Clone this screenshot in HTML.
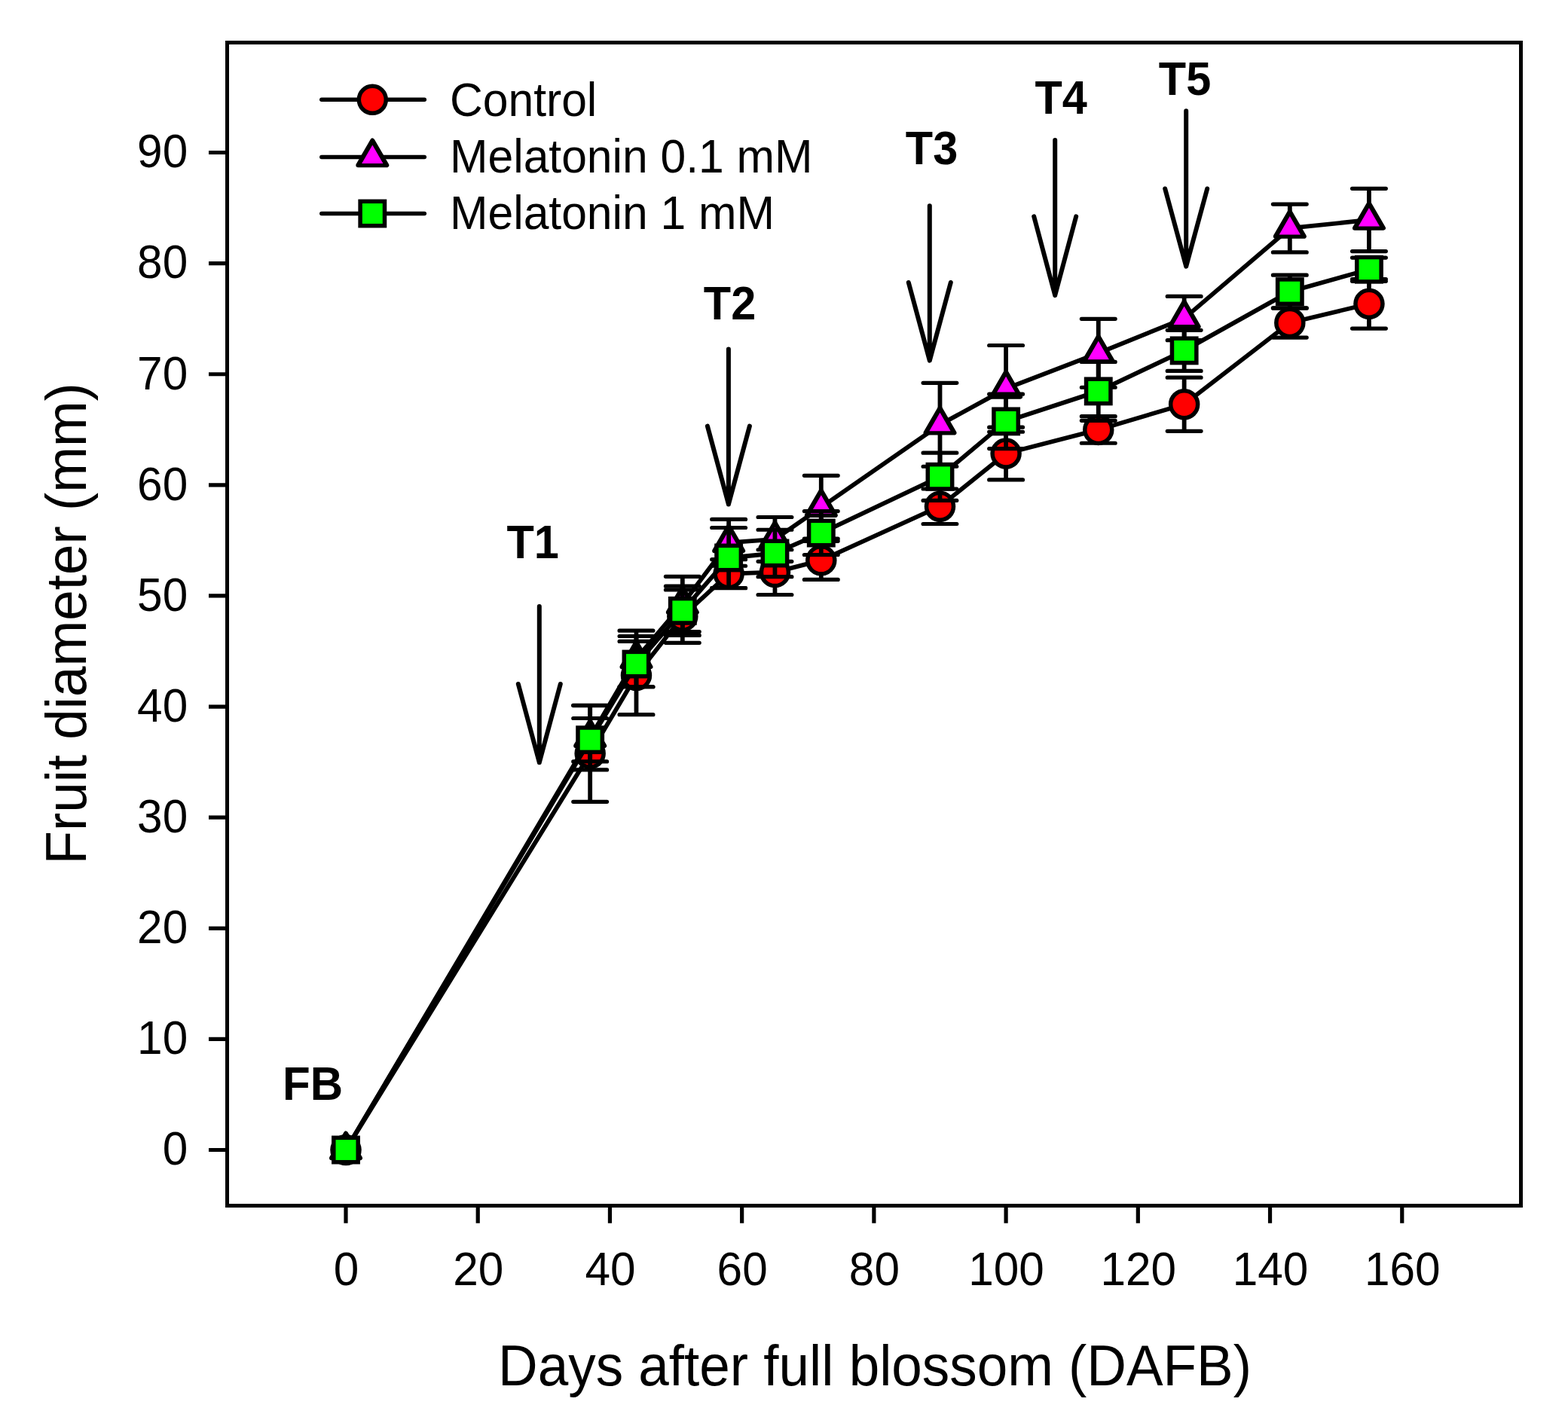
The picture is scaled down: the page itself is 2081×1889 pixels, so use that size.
<!DOCTYPE html>
<html><head><meta charset="utf-8"><title>Fruit diameter</title>
<style>
html,body{margin:0;padding:0;background:#fff;}
body{width:2081px;height:1889px;overflow:hidden;}
svg{display:block;}
.t{font-family:"Liberation Sans",Arial,sans-serif;fill:#000;}
.b{font-family:"Liberation Sans",Arial,sans-serif;font-weight:bold;fill:#000;}
</style></head><body>
<svg width="2081" height="1889" viewBox="0 0 2081 1889">
<rect x="0" y="0" width="2081" height="1889" fill="#fff"/>
<polyline points="459,1526.5 783.16,1000.29 844.48,896.57 905.81,818.17 967.14,761.68 1028.46,759.62 1089.79,743.87 1247.49,672.23 1335.1,602.06 1457.75,570.43 1571.65,536.74 1711.82,428.47 1816.95,403.32" fill="none" stroke="#000" stroke-width="5.8" stroke-linejoin="round"/>
<path d="M783.16 936.29V1064.28M844.48 844.5V948.65M905.81 783.01V853.32M967.14 742.7V780.65M1028.46 729.75V789.48M1089.79 718.28V769.47M1247.49 648.99V695.48M1335.1 567.2V636.93M1457.75 552.63V588.23M1571.65 501.14V572.34M1711.82 408.91V448.04M1816.95 370.51V436.12" fill="none" stroke="#000" stroke-width="5.8"/><path d="M760.76 936.29H805.56M760.76 1064.28H805.56M822.08 844.5H866.88M822.08 948.65H866.88M883.41 783.01H928.21M883.41 853.32H928.21M944.74 742.7H989.54M944.74 780.65H989.54M1006.06 729.75H1050.87M1006.06 789.48H1050.87M1067.39 718.28H1112.19M1067.39 769.47H1112.19M1225.09 648.99H1269.89M1225.09 695.48H1269.89M1312.7 567.2H1357.5M1312.7 636.93H1357.5M1435.35 552.63H1480.15M1435.35 588.23H1480.15M1549.25 501.14H1594.05M1549.25 572.34H1594.05M1689.42 408.91H1734.22M1689.42 448.04H1734.22M1794.55 370.51H1839.36M1794.55 436.12H1839.36" fill="none" stroke="#000" stroke-width="5.2" stroke-linecap="round"/>
<circle cx="459" cy="1526.5" r="18" fill="#ff0000" stroke="#000" stroke-width="5.5"/>
<circle cx="783.16" cy="1000.29" r="18" fill="#ff0000" stroke="#000" stroke-width="5.5"/>
<circle cx="844.48" cy="896.57" r="18" fill="#ff0000" stroke="#000" stroke-width="5.5"/>
<circle cx="905.81" cy="818.17" r="18" fill="#ff0000" stroke="#000" stroke-width="5.5"/>
<circle cx="967.14" cy="761.68" r="18" fill="#ff0000" stroke="#000" stroke-width="5.5"/>
<circle cx="1028.46" cy="759.62" r="18" fill="#ff0000" stroke="#000" stroke-width="5.5"/>
<circle cx="1089.79" cy="743.87" r="18" fill="#ff0000" stroke="#000" stroke-width="5.5"/>
<circle cx="1247.49" cy="672.23" r="18" fill="#ff0000" stroke="#000" stroke-width="5.5"/>
<circle cx="1335.1" cy="602.06" r="18" fill="#ff0000" stroke="#000" stroke-width="5.5"/>
<circle cx="1457.75" cy="570.43" r="18" fill="#ff0000" stroke="#000" stroke-width="5.5"/>
<circle cx="1571.65" cy="536.74" r="18" fill="#ff0000" stroke="#000" stroke-width="5.5"/>
<circle cx="1711.82" cy="428.47" r="18" fill="#ff0000" stroke="#000" stroke-width="5.5"/>
<circle cx="1816.95" cy="403.32" r="18" fill="#ff0000" stroke="#000" stroke-width="5.5"/>
<polyline points="459,1526.5 783.16,979.25 844.48,874.43 905.81,801.98 967.14,720.34 1028.46,715.92 1089.79,673.26 1247.49,563.81 1335.1,515.85 1457.75,468.78 1571.65,422.59 1711.82,302.99 1816.95,291.95" fill="none" stroke="#000" stroke-width="5.8" stroke-linejoin="round"/>
<path d="M783.16 936.59V1021.91M844.48 837.14V911.73M905.81 765.35V838.61M967.14 689.44V751.23M1028.46 686.5V745.35M1089.79 631.34V715.19M1247.49 508.35V619.27M1335.1 458.48V573.23M1457.75 423.32V514.24M1571.65 393.46V451.71M1711.82 271.06V334.91M1816.95 250.32V333.59" fill="none" stroke="#000" stroke-width="5.8"/><path d="M760.76 936.59H805.56M760.76 1021.91H805.56M822.08 837.14H866.88M822.08 911.73H866.88M883.41 765.35H928.21M883.41 838.61H928.21M944.74 689.44H989.54M944.74 751.23H989.54M1006.06 686.5H1050.87M1006.06 745.35H1050.87M1067.39 631.34H1112.19M1067.39 715.19H1112.19M1225.09 508.35H1269.89M1225.09 619.27H1269.89M1312.7 458.48H1357.5M1312.7 573.23H1357.5M1435.35 423.32H1480.15M1435.35 514.24H1480.15M1549.25 393.46H1594.05M1549.25 451.71H1594.05M1689.42 271.06H1734.22M1689.42 334.91H1734.22M1794.55 250.32H1839.36M1794.55 333.59H1839.36" fill="none" stroke="#000" stroke-width="5.2" stroke-linecap="round"/>
<polygon points="459,1504.5 478,1537.3 440,1537.3" fill="#000" stroke="#000" stroke-width="6" stroke-linejoin="round"/><polygon points="459,1510.5 473.1,1535 444.9,1535" fill="#ff00ff"/>
<polygon points="783.16,957.25 802.16,990.05 764.16,990.05" fill="#000" stroke="#000" stroke-width="6" stroke-linejoin="round"/><polygon points="783.16,963.25 797.26,987.75 769.06,987.75" fill="#ff00ff"/>
<polygon points="844.48,852.43 863.48,885.23 825.48,885.23" fill="#000" stroke="#000" stroke-width="6" stroke-linejoin="round"/><polygon points="844.48,858.43 858.58,882.93 830.38,882.93" fill="#ff00ff"/>
<polygon points="905.81,779.98 924.81,812.78 886.81,812.78" fill="#000" stroke="#000" stroke-width="6" stroke-linejoin="round"/><polygon points="905.81,785.98 919.91,810.48 891.71,810.48" fill="#ff00ff"/>
<polygon points="967.14,698.34 986.14,731.14 948.14,731.14" fill="#000" stroke="#000" stroke-width="6" stroke-linejoin="round"/><polygon points="967.14,704.34 981.24,728.84 953.04,728.84" fill="#ff00ff"/>
<polygon points="1028.46,693.92 1047.46,726.72 1009.46,726.72" fill="#000" stroke="#000" stroke-width="6" stroke-linejoin="round"/><polygon points="1028.46,699.92 1042.56,724.42 1014.36,724.42" fill="#ff00ff"/>
<polygon points="1089.79,651.26 1108.79,684.06 1070.79,684.06" fill="#000" stroke="#000" stroke-width="6" stroke-linejoin="round"/><polygon points="1089.79,657.26 1103.89,681.76 1075.69,681.76" fill="#ff00ff"/>
<polygon points="1247.49,541.81 1266.49,574.61 1228.49,574.61" fill="#000" stroke="#000" stroke-width="6" stroke-linejoin="round"/><polygon points="1247.49,547.81 1261.59,572.31 1233.39,572.31" fill="#ff00ff"/>
<polygon points="1335.1,493.85 1354.1,526.65 1316.1,526.65" fill="#000" stroke="#000" stroke-width="6" stroke-linejoin="round"/><polygon points="1335.1,499.85 1349.2,524.35 1321,524.35" fill="#ff00ff"/>
<polygon points="1457.75,446.78 1476.75,479.58 1438.75,479.58" fill="#000" stroke="#000" stroke-width="6" stroke-linejoin="round"/><polygon points="1457.75,452.78 1471.85,477.28 1443.65,477.28" fill="#ff00ff"/>
<polygon points="1571.65,400.59 1590.65,433.39 1552.65,433.39" fill="#000" stroke="#000" stroke-width="6" stroke-linejoin="round"/><polygon points="1571.65,406.59 1585.75,431.09 1557.55,431.09" fill="#ff00ff"/>
<polygon points="1711.82,280.99 1730.82,313.79 1692.82,313.79" fill="#000" stroke="#000" stroke-width="6" stroke-linejoin="round"/><polygon points="1711.82,286.99 1725.92,311.49 1697.72,311.49" fill="#ff00ff"/>
<polygon points="1816.95,269.95 1835.95,302.75 1797.95,302.75" fill="#000" stroke="#000" stroke-width="6" stroke-linejoin="round"/><polygon points="1816.95,275.95 1831.05,300.45 1802.86,300.45" fill="#ff00ff"/>
<polyline points="459,1526.5 783.16,982.19 844.48,881.57 905.81,810.81 967.14,740.49 1028.46,734.46 1089.79,707.54 1247.49,632.81 1335.1,559.4 1457.75,519.38 1571.65,465.4 1711.82,387.13 1816.95,357.71" fill="none" stroke="#000" stroke-width="5.8" stroke-linejoin="round"/>
<path d="M783.16 953.51V1010.88M844.48 851.41V911.73M905.81 778.15V843.47M967.14 700.48V780.51M1028.46 703.27V765.65M1089.79 678.56V736.52M1247.49 601.18V664.44M1335.1 523.21V595.59M1457.75 480.4V558.37M1571.65 438.33V492.46M1711.82 365.21V409.05M1816.95 342.12V373.3" fill="none" stroke="#000" stroke-width="5.8"/><path d="M760.76 953.51H805.56M760.76 1010.88H805.56M822.08 851.41H866.88M822.08 911.73H866.88M883.41 778.15H928.21M883.41 843.47H928.21M944.74 700.48H989.54M944.74 780.51H989.54M1006.06 703.27H1050.87M1006.06 765.65H1050.87M1067.39 678.56H1112.19M1067.39 736.52H1112.19M1225.09 601.18H1269.89M1225.09 664.44H1269.89M1312.7 523.21H1357.5M1312.7 595.59H1357.5M1435.35 480.4H1480.15M1435.35 558.37H1480.15M1549.25 438.33H1594.05M1549.25 492.46H1594.05M1689.42 365.21H1734.22M1689.42 409.05H1734.22M1794.55 342.12H1839.36M1794.55 373.3H1839.36" fill="none" stroke="#000" stroke-width="5.2" stroke-linecap="round"/>
<rect x="442.8" y="1510.3" width="32.4" height="32.4" fill="#00ff00" stroke="#000" stroke-width="5.5"/>
<rect x="766.96" y="965.99" width="32.4" height="32.4" fill="#00ff00" stroke="#000" stroke-width="5.5"/>
<rect x="828.28" y="865.37" width="32.4" height="32.4" fill="#00ff00" stroke="#000" stroke-width="5.5"/>
<rect x="889.61" y="794.61" width="32.4" height="32.4" fill="#00ff00" stroke="#000" stroke-width="5.5"/>
<rect x="950.94" y="724.29" width="32.4" height="32.4" fill="#00ff00" stroke="#000" stroke-width="5.5"/>
<rect x="1012.26" y="718.26" width="32.4" height="32.4" fill="#00ff00" stroke="#000" stroke-width="5.5"/>
<rect x="1073.59" y="691.34" width="32.4" height="32.4" fill="#00ff00" stroke="#000" stroke-width="5.5"/>
<rect x="1231.29" y="616.61" width="32.4" height="32.4" fill="#00ff00" stroke="#000" stroke-width="5.5"/>
<rect x="1318.9" y="543.2" width="32.4" height="32.4" fill="#00ff00" stroke="#000" stroke-width="5.5"/>
<rect x="1441.55" y="503.18" width="32.4" height="32.4" fill="#00ff00" stroke="#000" stroke-width="5.5"/>
<rect x="1555.45" y="449.2" width="32.4" height="32.4" fill="#00ff00" stroke="#000" stroke-width="5.5"/>
<rect x="1695.62" y="370.93" width="32.4" height="32.4" fill="#00ff00" stroke="#000" stroke-width="5.5"/>
<rect x="1800.75" y="341.51" width="32.4" height="32.4" fill="#00ff00" stroke="#000" stroke-width="5.5"/>
<rect x="301.5" y="56.5" width="1717" height="1544" fill="none" stroke="#000" stroke-width="5"/>
<path d="M277 1526.5H301.5M277 1379.39H301.5M277 1232.28H301.5M277 1085.17H301.5M277 938.06H301.5M277 790.95H301.5M277 643.84H301.5M277 496.73H301.5M277 349.62H301.5M277 202.51H301.5M459 1600.5V1623.8M634.22 1600.5V1623.8M809.44 1600.5V1623.8M984.66 1600.5V1623.8M1159.88 1600.5V1623.8M1335.1 1600.5V1623.8M1510.32 1600.5V1623.8M1685.54 1600.5V1623.8M1860.76 1600.5V1623.8" stroke="#000" stroke-width="5.2" fill="none"/>
<text transform="translate(249.2 1546.3) scale(0.95 1)" class="t" text-anchor="end" font-size="63.5">0</text>
<text transform="translate(249.2 1399.19) scale(0.95 1)" class="t" text-anchor="end" font-size="63.5">10</text>
<text transform="translate(249.2 1252.08) scale(0.95 1)" class="t" text-anchor="end" font-size="63.5">20</text>
<text transform="translate(249.2 1104.97) scale(0.95 1)" class="t" text-anchor="end" font-size="63.5">30</text>
<text transform="translate(249.2 957.86) scale(0.95 1)" class="t" text-anchor="end" font-size="63.5">40</text>
<text transform="translate(249.2 810.75) scale(0.95 1)" class="t" text-anchor="end" font-size="63.5">50</text>
<text transform="translate(249.2 663.64) scale(0.95 1)" class="t" text-anchor="end" font-size="63.5">60</text>
<text transform="translate(249.2 516.53) scale(0.95 1)" class="t" text-anchor="end" font-size="63.5">70</text>
<text transform="translate(249.2 369.42) scale(0.95 1)" class="t" text-anchor="end" font-size="63.5">80</text>
<text transform="translate(249.2 222.31) scale(0.95 1)" class="t" text-anchor="end" font-size="63.5">90</text>
<text transform="translate(459.5 1706.2) scale(0.95 1)" class="t" text-anchor="middle" font-size="63.5">0</text>
<text transform="translate(634.72 1706.2) scale(0.95 1)" class="t" text-anchor="middle" font-size="63.5">20</text>
<text transform="translate(809.94 1706.2) scale(0.95 1)" class="t" text-anchor="middle" font-size="63.5">40</text>
<text transform="translate(985.16 1706.2) scale(0.95 1)" class="t" text-anchor="middle" font-size="63.5">60</text>
<text transform="translate(1160.38 1706.2) scale(0.95 1)" class="t" text-anchor="middle" font-size="63.5">80</text>
<text transform="translate(1335.6 1706.2) scale(0.95 1)" class="t" text-anchor="middle" font-size="63.5">100</text>
<text transform="translate(1510.82 1706.2) scale(0.95 1)" class="t" text-anchor="middle" font-size="63.5">120</text>
<text transform="translate(1686.04 1706.2) scale(0.95 1)" class="t" text-anchor="middle" font-size="63.5">140</text>
<text transform="translate(1861.26 1706.2) scale(0.95 1)" class="t" text-anchor="middle" font-size="63.5">160</text>
<text transform="translate(1161 1838.8) scale(0.998 1.04)" class="t" text-anchor="middle" font-size="73">Days after full blossom (DAFB)</text>
<text transform="translate(114.1 827.9) rotate(-90) scale(0.998 1.04)" class="t" text-anchor="middle" font-size="73">Fruit diameter (mm)</text>
<path d="M715.8 805V1012.3M687.8 908L715.8 1012.3L743.8 908M966.9 463.4V669.4M938.9 565.6L966.9 669.4L994.9 565.6M1233.8 273.3V478.6M1205.8 375L1233.8 478.6L1261.8 375M1400.2 186V392.1M1372.2 287.3L1400.2 392.1L1428.2 287.3M1574.2 147.2V353.6M1546.2 250.5L1574.2 353.6L1602.2 250.5" stroke="#000" stroke-width="6" stroke-linecap="round" stroke-linejoin="round" fill="none"/>
<text transform="translate(707.1 740.6) scale(0.975 1.04)" class="b" text-anchor="middle" font-size="61">T1</text>
<text transform="translate(968.5 423.7) scale(0.975 1.04)" class="b" text-anchor="middle" font-size="61">T2</text>
<text transform="translate(1236.5 218) scale(0.975 1.04)" class="b" text-anchor="middle" font-size="61">T3</text>
<text transform="translate(1408.1 151.2) scale(0.975 1.04)" class="b" text-anchor="middle" font-size="61">T4</text>
<text transform="translate(1572.5 126) scale(0.975 1.04)" class="b" text-anchor="middle" font-size="61">T5</text>
<text transform="translate(415 1459.9) scale(0.985 1.04)" class="b" text-anchor="middle" font-size="61">FB</text>
<path d="M426.8 132.3H563.3" stroke="#000" stroke-width="5.5" stroke-linecap="round"/>
<circle cx="494.3" cy="132.3" r="18" fill="#ff0000" stroke="#000" stroke-width="5.5"/>
<text transform="translate(597 154.2) scale(1 1.04)" class="t" font-size="60.6">Control</text>
<path d="M426.8 208.5H563.3" stroke="#000" stroke-width="5.5" stroke-linecap="round"/>
<polygon points="494.3,186.5 513.3,219.3 475.3,219.3" fill="#000" stroke="#000" stroke-width="6" stroke-linejoin="round"/><polygon points="494.3,192.5 508.4,217 480.2,217" fill="#ff00ff"/>
<text transform="translate(597 229) scale(1 1.04)" class="t" font-size="60.6">Melatonin 0.1 mM</text>
<path d="M426.8 283.5H563.3" stroke="#000" stroke-width="5.5" stroke-linecap="round"/>
<rect x="478.1" y="267.3" width="32.4" height="32.4" fill="#00ff00" stroke="#000" stroke-width="5.5"/>
<text transform="translate(597 304) scale(1 1.04)" class="t" font-size="60.6">Melatonin 1 mM</text>
</svg>
</body></html>
